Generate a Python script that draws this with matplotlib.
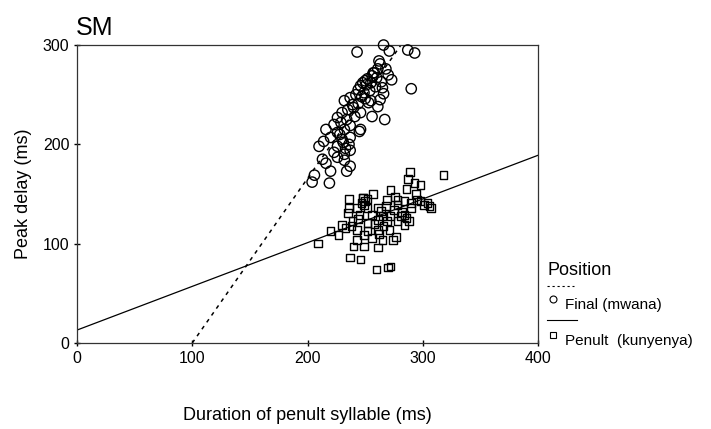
import numpy as np
import matplotlib.pyplot as plt
from matplotlib.lines import Line2D

plt.rcParams['font.family'] = ['Liberation Sans', 'DejaVu Sans']

# Final position (mwana): duration of penult (ms), peak delay (ms)
final_x = [243, 271, 266, 287, 293, 273, 290, 263, 261, 256, 250, 246, 249, 265, 266,
           263, 261, 255, 237, 232, 240, 246, 256, 267, 230, 226, 234, 223, 216, 226,
           232, 237, 246, 245, 220, 230, 237, 214, 210, 226, 233, 237, 223, 232, 213,
           216, 226, 232, 237, 220, 234, 206, 204, 219, 262, 258, 252, 248, 244, 251,
           257, 242, 264, 270, 254, 247, 253, 259, 239, 235, 229, 241, 228, 236, 231,
           244, 250, 255, 260, 268]
final_y = [293, 294, 300, 295, 292, 265, 256, 281, 276, 269, 264, 259, 252, 257, 251,
           245, 238, 244, 247, 244, 237, 232, 228, 225, 232, 227, 225, 220, 215, 212,
           215, 219, 215, 213, 207, 205, 207, 203, 198, 198, 196, 194, 192, 190, 185,
           181, 187, 184, 178, 173, 173, 169, 162, 161, 284, 272, 266, 262, 255, 260,
           272, 250, 263, 270, 254, 248, 242, 258, 240, 235, 222, 228, 210, 200, 202,
           241, 246, 262, 267, 276]

# Penult position (kunyenya)
penult_x = [318, 289, 287, 293, 298, 286, 272, 294, 257, 236, 248, 269, 278, 284, 290,
            298, 306, 304, 278, 268, 261, 252, 243, 236, 235, 245, 256, 265, 272, 284,
            288, 278, 269, 261, 252, 239, 230, 220, 227, 233, 243, 252, 261, 271, 277,
            274, 265, 256, 249, 243, 240, 249, 261, 209, 237, 246, 260, 270, 272, 307,
            295, 301, 281, 266, 284, 290, 275, 264, 248, 250, 247, 252, 249, 244, 238,
            282, 276, 286, 262, 258]
penult_y = [169, 172, 165, 161, 159, 155, 154, 150, 150, 145, 146, 144, 144, 143, 141,
            143, 138, 141, 139, 138, 136, 136, 136, 136, 131, 129, 129, 128, 128, 129,
            123, 123, 123, 124, 121, 123, 119, 113, 109, 116, 114, 113, 114, 114, 107,
            104, 104, 106, 109, 104, 97, 97, 96, 100, 86, 84, 74, 76, 77, 136,
            144, 139, 128, 118, 119, 136, 134, 133, 146, 143, 141, 145, 139, 125, 118,
            132, 147, 126, 110, 120]

# regression lines
final_slope, final_icpt = 1.657, -165.7
penult_slope, penult_icpt = 0.44, 13.0

xticks = [0, 100, 200, 300, 400]
yticks = [0, 100, 200, 300]

fig = plt.figure(figsize=(7.11, 4.29), dpi=100)
ax = fig.add_axes([0.1083, 0.2005, 0.6484, 0.6945])

ax.scatter(final_x, final_y, s=55, marker='o', facecolors='none', edgecolors='black',
           linewidths=1.0, clip_on=False, zorder=3)
ax.scatter(penult_x, penult_y, s=30, marker='s', facecolors='none', edgecolors='black',
           linewidths=1.0, clip_on=False, zorder=3)

fx = np.array([-final_icpt / final_slope, (300 - final_icpt) / final_slope])
ax.plot(fx, final_icpt + final_slope * fx, color='black', lw=1.1, ls=(0, (2.5, 3)))
px = np.array([0, 400])
ax.plot(px, penult_icpt + penult_slope * px, color='black', lw=0.9)

ax.set_xlim(0, 400)
ax.set_ylim(0, 300)
ax.set_xticks(xticks)
ax.set_yticks(yticks)
ax.tick_params(direction='inout', length=5, width=1, labelsize=11.5, pad=3)
for s in ax.spines.values():
    s.set_linewidth(0.9)
    s.set_color('#333333')

ax.set_xlabel('Duration of penult syllable (ms)', fontsize=13, labelpad=30)
ax.set_ylabel('Peak delay (ms)', fontsize=13, labelpad=8)
fig.text(0.106, 0.935, 'SM', fontsize=18, ha='left', va='center')

# legend drawn by hand
fig.text(0.770, 0.37, 'Position', fontsize=13, ha='left', va='center')
fig.add_artist(Line2D([0.770, 0.808], [0.333, 0.333], color='black', lw=0.8, ls=(0, (2, 2.5))))
fig.add_artist(Line2D([0.778], [0.302], marker='o', ms=5, mfc='none', mec='black', mew=0.8))
fig.text(0.795, 0.288, 'Final (mwana)', fontsize=11, ha='left', va='center')
fig.add_artist(Line2D([0.770, 0.812], [0.255, 0.255], color='black', lw=0.8))
fig.add_artist(Line2D([0.778], [0.218], marker='s', ms=4, mfc='none', mec='black', mew=0.8))
fig.text(0.795, 0.206, 'Penult  (kunyenya)', fontsize=11, ha='left', va='center')

fig.savefig('out.png', dpi=100)
